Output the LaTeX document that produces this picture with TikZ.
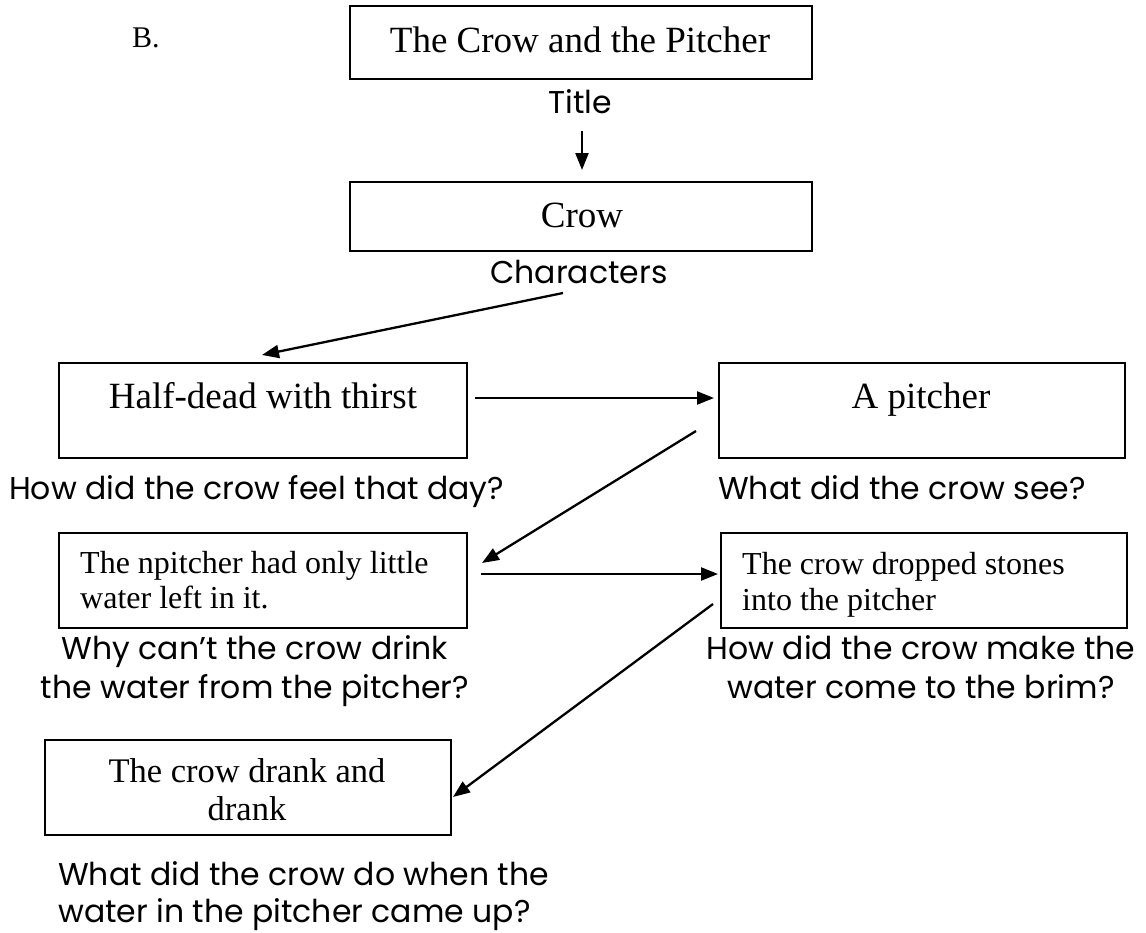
\documentclass[tikz,border=0pt]{standalone}
\usepackage{fontspec}
\setmainfont{Liberation Serif}
\newfontfamily\gothic{Poppins}
\usetikzlibrary{arrows.meta,calc}

\tikzset{
  x=1pt, y=-1pt,
  box/.style={draw, line width=1.8pt, inner sep=0pt},
  arr/.style={line width=2.3pt, -{Triangle[length=17pt,width=13pt]}},
  lbl/.style={inner sep=0pt, font=\gothic\fontsize{31.5}{36}\selectfont},
  big/.style={inner sep=0pt, font=\fontsize{37}{42}\selectfont},
  mid/.style={inner sep=0pt, font=\fontsize{32}{38}\selectfont},
}

\begin{document}
\begin{tikzpicture}
  \useasboundingbox (0,0) rectangle (1146,932);

  \node[inner sep=0pt, anchor=base west, font=\fontsize{30}{34}\selectfont] (lettr) at (132,47) {B.};

  % title and characters
  \node[box, anchor=north west, minimum width=462pt, minimum height=73pt] (title) at (349,5) {};
  \node[big, anchor=base] (titlet) at (580,52) {The Crow and the Pitcher};
  \node[lbl, anchor=base] (titlel) at (580,113) {Title};

  \node[box, anchor=north west, minimum width=462pt, minimum height=69pt] (crow) at (349,181) {};
  \node[big, anchor=base] (crowt) at (582,227) {Crow};
  \node[lbl, anchor=base] (crowl) at (579,283) {Characters};

  % first row
  \node[box, anchor=north west, minimum width=408pt, minimum height=95pt] (hd) at (58,362) {};
  \node[big, anchor=base] (hdt) at (263,408) {Half-dead with thirst};
  \node[lbl, anchor=base west] (hdl) at (9,499) {How did the crow feel that day?};

  \node[box, anchor=north west, minimum width=406pt, minimum height=95pt] (pit) at (718,362) {};
  \node[big, anchor=base] (pitt) at (921,408) {A pitcher};
  \node[lbl, anchor=base west] (pitl) at (718,499) {What did the crow see?};

  % second row
  \node[box, anchor=north west, minimum width=408pt, minimum height=95pt] (np) at (58,532) {};
  \node[mid, anchor=base west] (npa) at (80,573) {The npitcher had only little};
  \node[mid, anchor=base west] (npb) at (80,608) {water left in it.};
  \node[lbl, anchor=base] (npla) at (255,659) {Why can’t the crow drink};
  \node[lbl, anchor=base] (nplb) at (255,698) {the water from the pitcher?};

  \node[box, anchor=north west, minimum width=406pt, minimum height=95pt] (st) at (720,532) {};
  \node[mid, anchor=base west] (sta) at (742,574) {The crow dropped stones};
  \node[mid, anchor=base west] (stb) at (742,610) {into the pitcher};
  \node[lbl, anchor=base] (stla) at (921,659) {How did the crow make the};
  \node[lbl, anchor=base] (stlb) at (921,698) {water come to the brim?};

  % last row
  \node[box, anchor=north west, minimum width=406pt, minimum height=95pt] (dr) at (44,739) {};
  \node[inner sep=0pt, anchor=base, font=\fontsize{34.5}{40}\selectfont] (dra) at (247,782) {The crow drank and};
  \node[inner sep=0pt, anchor=base, font=\fontsize{34.5}{40}\selectfont] (drb) at (247,820) {drank};
  \node[lbl, anchor=base west] (drla) at (58,885) {What did the crow do when the};
  \node[lbl, anchor=base west] (drlb) at (58,922) {water in the pitcher came up?};

  % connector ends
  \coordinate (c1) at (582,131);
  \coordinate (c2) at (582,170);
  \coordinate (c3) at (563,293);
  \coordinate (c4) at (262,355);
  \coordinate (c5) at (475,398);
  \coordinate (c6) at (714,398);
  \coordinate (c7) at (696,431);
  \coordinate (c8) at (482,563);
  \coordinate (c9) at (481,574);
  \coordinate (c10) at (718,574);
  \coordinate (c11) at (713,604);
  \coordinate (c12) at (453,797);

  \draw[arr] (c1) -- (c2);
  \draw[arr] (c3) -- (c4);
  \draw[arr] (c5) -- (c6);
  \draw[arr] (c7) -- (c8);
  \draw[arr] (c9) -- (c10);
  \draw[arr] (c11) -- (c12);
\end{tikzpicture}
\end{document}
